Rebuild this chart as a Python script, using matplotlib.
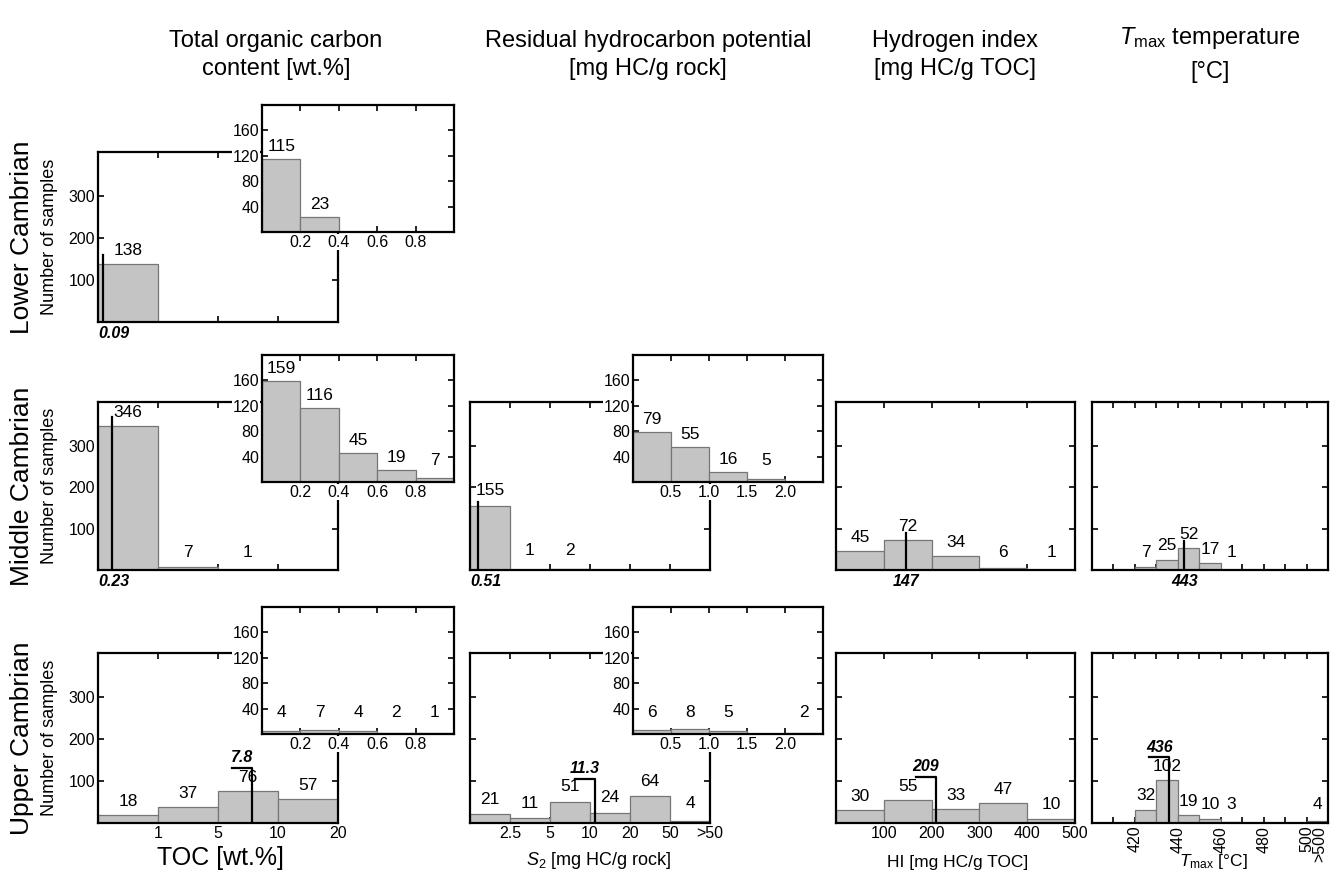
import numpy as np
import matplotlib.pyplot as plt
import matplotlib.transforms as mtransforms

plt.rcParams['font.family'] = ['Liberation Sans', 'DejaVu Sans']
plt.rcParams['mathtext.fontset'] = 'custom'
plt.rcParams['mathtext.rm'] = 'Liberation Sans'
plt.rcParams['mathtext.it'] = 'Liberation Sans:italic'
plt.rcParams['mathtext.bf'] = 'Liberation Sans:bold'

# ---- data ----
periods = ['Lower Cambrian', 'Middle Cambrian', 'Upper Cambrian']

# TOC [wt.%], uneven classes drawn as equal-width columns
toc_edges = [0, 1, 5, 10, 20]
toc_ticklabels = ['1', '5', '10', '20']
toc_counts = [[138, 0, 0, 0],
              [346, 7, 1, 0],
              [18, 37, 76, 57]]
toc_median = [0.09, 0.23, 7.8]
# detail of the lowest TOC class (0-1 wt.%)
toc_fine_edges = [0, 0.2, 0.4, 0.6, 0.8, 1.0]
toc_fine_counts = [[115, 23, 0, 0, 0],
                   [159, 116, 45, 19, 7],
                   [4, 7, 4, 2, 1]]

# S2 [mg HC/g rock]
s2_edges = [0, 2.5, 5, 10, 20, 50, 100]
s2_ticklabels = ['2.5', '5', '10', '20', '50', '>50']
s2_counts = [None,
             [155, 1, 2, 0, 0, 0],
             [21, 11, 51, 24, 64, 4]]
s2_median = [None, 0.51, 11.3]
s2_fine_edges = [0, 0.5, 1.0, 1.5, 2.0, 2.5]
s2_fine_counts = [None,
                  [79, 55, 16, 5, 0],
                  [6, 8, 5, 0, 2]]

# HI [mg HC/g TOC]
hi_left = [0, 100, 200, 300, 400]
hi_counts = [None,
             [45, 72, 34, 6, 1],
             [30, 55, 33, 47, 10]]
hi_median = [None, 147, 209]

# Tmax [C], last class is >500
tmax_left = [420, 430, 440, 450, 460, 500]
tmax_counts = [None,
               [7, 25, 52, 17, 1, 0],
               [32, 102, 19, 10, 3, 4]]
tmax_median = [None, 443, 436]

# ---- layout (pixels) ----
W, H = 1330, 872
FILL = '#c4c4c4'
EDGE = '#767676'
FS = 11.5
BAR_FS = 12.5

rows_main = [(152, 322), (402, 570), (653, 823)]
rows_fine = [(105, 232), (355, 482), (607, 734)]
col_toc, col_toc_fine = (98, 338), (262, 454)
col_s2, col_s2_fine = (470, 710), (633, 823)
col_hi, col_tmax = (836, 1075), (1092, 1328)

fig = plt.figure(figsize=(W / 100, H / 100), dpi=100)


def add_axes(xs, ys):
    return fig.add_axes([xs[0] / W, 1 - ys[1] / H,
                         (xs[1] - xs[0]) / W, (ys[1] - ys[0]) / H])


def frame(ax):
    for s in ax.spines.values():
        s.set_linewidth(1.6)
    ax.tick_params(direction='in', top=True, right=True, length=4,
                   width=1.2, labelsize=FS, pad=2)


def draw_bars(ax, lefts, widths, counts, pad, floor):
    for l, w, c in zip(lefts, widths, counts):
        if c == 0:
            continue
        ax.bar(l, c, w, align='edge', color=FILL, edgecolor=EDGE,
               linewidth=0.9, zorder=2)
        ax.text(l + w / 2, max(c, floor) + pad, str(c), ha='center',
                va='center', fontsize=BAR_FS, zorder=4)


def class_pos(value, edges):
    # position of a value on an axis where every class is one unit wide
    for i in range(len(edges) - 1):
        if edges[i] <= value < edges[i + 1]:
            return i + (value - edges[i]) / (edges[i + 1] - edges[i])
    return len(edges) - 1


def median_line(ax, x, top, text):
    ax.plot([x, x], [0, top], color='black', lw=1.6, zorder=3)
    x0, x1 = ax.get_xlim()
    trans = mtransforms.blended_transform_factory(ax.transData, ax.transAxes)
    if (x - x0) / (x1 - x0) < 0.08:
        ax.text(x0, -0.025, text, transform=trans, ha='left', va='top',
                fontsize=FS, fontweight='bold', fontstyle='italic')
    else:
        ax.text(x, -0.025, text, transform=trans, ha='center', va='top',
                fontsize=FS, fontweight='bold', fontstyle='italic')


def median_bracket(ax, x, lefts, widths, counts, text):
    x0, x1 = ax.get_xlim()
    w = 20 * (x1 - x0) / (ax.get_position().width * W)
    under = [c for l, wd, c in zip(lefts, widths, counts)
             if l < x and l + wd > x - w]
    top = max(under) + 55
    ax.plot([x - w, x, x], [top, top, 0], color='black', lw=1.6, zorder=3)
    ax.text(x - w / 2, top + 6, text, ha='center', va='bottom', fontsize=FS,
            fontweight='bold', fontstyle='italic', zorder=4)


def main_axes(ax, xlim, xticks, xticklabels, ylabels):
    frame(ax)
    ax.set_xlim(*xlim)
    ax.set_ylim(0, 405)
    ax.set_xticks(xticks)
    ax.set_xticklabels(xticklabels)
    ax.set_yticks([100, 200, 300])
    if not ylabels:
        ax.set_yticklabels([])


def fine_axes(ax, edges, counts, ticks, ticklabels):
    frame(ax)
    ax.set_facecolor('white')
    ax.set_xlim(edges[0], edges[-1])
    ax.set_ylim(0, 200)
    ax.set_xticks(ticks)
    ax.set_xticklabels(ticklabels)
    ax.set_yticks([40, 80, 120, 160])
    widths = np.diff(edges)
    draw_bars(ax, edges[:-1], widths, counts, pad=20, floor=14)
    for lab in ax.get_xticklabels() + ax.get_yticklabels():
        lab.set_bbox(dict(facecolor='white', edgecolor='none', pad=0.5))


for r in range(3):
    last = r == 2

    # total organic carbon
    ax = add_axes(col_toc, rows_main[r])
    n = len(toc_counts[r])
    main_axes(ax, (0, n), range(1, n + 1),
              toc_ticklabels if last else [], True)
    draw_bars(ax, range(n), [1] * n, toc_counts[r], pad=33, floor=10)
    xm = class_pos(toc_median[r], toc_edges)
    if last:
        median_bracket(ax, xm, range(n), [1] * n, toc_counts[r],
                       str(toc_median[r]))
    else:
        median_line(ax, xm, toc_counts[r][int(xm)] + 22, f'{toc_median[r]:.2f}')
    axf = add_axes(col_toc_fine, rows_fine[r])
    fine_axes(axf, toc_fine_edges, toc_fine_counts[r],
              [0.2, 0.4, 0.6, 0.8], ['0.2', '0.4', '0.6', '0.8'])

    if r == 0:
        continue

    # residual hydrocarbon potential S2
    ax = add_axes(col_s2, rows_main[r])
    n = len(s2_counts[r])
    main_axes(ax, (0, n), range(1, n + 1),
              s2_ticklabels if last else [], False)
    draw_bars(ax, range(n), [1] * n, s2_counts[r], pad=36, floor=10)
    xm = class_pos(s2_median[r], s2_edges)
    if last:
        median_bracket(ax, xm, range(n), [1] * n, s2_counts[r],
                       str(s2_median[r]))
    else:
        median_line(ax, xm, s2_counts[r][int(xm)] + 8, f'{s2_median[r]:.2f}')
    axf = add_axes(col_s2_fine, rows_fine[r])
    fine_axes(axf, s2_fine_edges, s2_fine_counts[r],
              [0.5, 1.0, 1.5, 2.0], ['0.5', '1.0', '1.5', '2.0'])

    # hydrogen index
    ax = add_axes(col_hi, rows_main[r])
    main_axes(ax, (0, 500), [100, 200, 300, 400, 500],
              ['100', '200', '300', '400', '500'] if last else [], False)
    draw_bars(ax, hi_left, [100] * 5, hi_counts[r], pad=33, floor=10)
    if last:
        median_bracket(ax, hi_median[r], hi_left, [100] * 5, hi_counts[r],
                       str(hi_median[r]))
    else:
        i = np.searchsorted(hi_left, hi_median[r], side='right') - 1
        median_line(ax, hi_median[r], hi_counts[r][i] + 18, str(hi_median[r]))

    # Tmax
    ax = add_axes(col_tmax, rows_main[r])
    ticks = list(range(410, 501, 10)) + [506]
    labels = ['', '420', '', '440', '', '460', '', '480', '', '500', '>500']
    main_axes(ax, (400, 510), ticks, labels if last else [], False)
    for t in ax.xaxis.get_major_ticks()[-1:]:
        t.tick1line.set_visible(False)
        t.tick2line.set_visible(False)
    if last:
        ax.tick_params(axis='x', labelrotation=90)
    nb = len(tmax_left)
    draw_bars(ax, tmax_left, [10] * nb, tmax_counts[r], pad=33, floor=10)
    if last:
        median_bracket(ax, tmax_median[r], tmax_left, [10] * nb,
                       tmax_counts[r], str(tmax_median[r]))
    else:
        i = np.searchsorted(tmax_left, tmax_median[r], side='right') - 1
        median_line(ax, tmax_median[r], tmax_counts[r][i] + 18,
                    str(tmax_median[r]))

# row labels
for r, name in enumerate(periods):
    yc = 1 - (rows_main[r][0] + rows_main[r][1]) / 2 / H
    fig.text(22 / W, yc, name, rotation=90, ha='center', va='center',
             fontsize=19)
    fig.text(50 / W, yc, 'Number of samples', rotation=90, ha='center',
             va='center', fontsize=13)

# column titles
tfs = 17
fig.text(276 / W, 1 - 55 / H, 'Total organic carbon\ncontent [wt.%]',
         ha='center', va='center', fontsize=tfs, linespacing=1.3)
fig.text(648 / W, 1 - 55 / H, 'Residual hydrocarbon potential\n[mg HC/g rock]',
         ha='center', va='center', fontsize=tfs, linespacing=1.3)
fig.text(955 / W, 1 - 55 / H, 'Hydrogen index\n[mg HC/g TOC]',
         ha='center', va='center', fontsize=tfs, linespacing=1.3)
fig.text(1210 / W, 1 - 38 / H, r'$T_{\mathrm{max}}$ temperature',
         ha='center', va='center', fontsize=tfs)
fig.text(1210 / W, 1 - 72 / H, '[°C]', ha='center', va='center', fontsize=tfs)

# x-axis titles under the bottom row
fig.text(220 / W, 1 - 858 / H, 'TOC [wt.%]', ha='center', va='center',
         fontsize=18)
fig.text(599 / W, 1 - 860 / H, r'$S_{\mathrm{2}}$ [mg HC/g rock]',
         ha='center', va='center', fontsize=13)
fig.text(958 / W, 1 - 862 / H, 'HI [mg HC/g TOC]', ha='center', va='center',
         fontsize=12.5)
fig.text(1213 / W, 1 - 861 / H, r'$T_{\mathrm{max}}$ [°C]', ha='center',
         va='center', fontsize=12.5)

fig.savefig('out.png', dpi=100)
